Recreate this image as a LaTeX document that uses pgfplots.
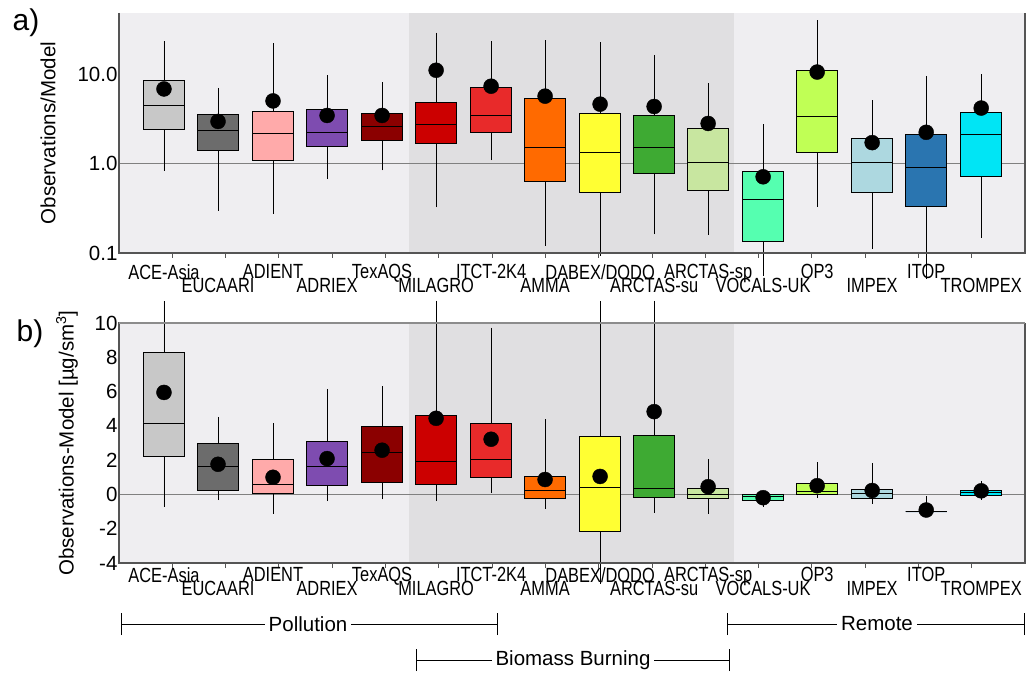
\documentclass[border=0pt]{standalone}
\usepackage{fontspec}
\setmainfont{Liberation Sans}
\newfontfamily\condfont{Liberation Sans}[FakeStretch=0.80]
\usepackage{pgfplots}
\pgfplotsset{compat=1.18}
\usepackage{pgfplotstable}
\usepgfplotslibrary{statistics}

\definecolor{bxc0}{HTML}{C8C8C8}
\definecolor{bxc1}{HTML}{6C6C6C}
\definecolor{bxc2}{HTML}{FFAAAA}
\definecolor{bxc3}{HTML}{7E4CB0}
\definecolor{bxc4}{HTML}{8B0000}
\definecolor{bxc5}{HTML}{CC0000}
\definecolor{bxc6}{HTML}{E82A2A}
\definecolor{bxc7}{HTML}{FF6A00}
\definecolor{bxc8}{HTML}{FFFF33}
\definecolor{bxc9}{HTML}{3EAA33}
\definecolor{bxc10}{HTML}{C8E6A0}
\definecolor{bxc11}{HTML}{55FFB0}
\definecolor{bxc12}{HTML}{C0FF55}
\definecolor{bxc13}{HTML}{ADD8E0}
\definecolor{bxc14}{HTML}{2A75B0}
\definecolor{bxc15}{HTML}{00E5F5}
\definecolor{bglight}{HTML}{EFEEF1}
\definecolor{bgdark}{HTML}{E0DFE1}
\definecolor{axcol}{HTML}{555555}

% panel a: Observations/Model (ratios; plotted on a log10 scale)
\pgfplotstableread{
pos    lw     lq     med    uq     uw    mean
0.844  0.82   2.40   4.44   8.58   23.4  6.8
1.858  0.295  1.41   2.34   3.53   7.0   2.95
2.890  0.271  1.09   2.17   3.81   22.1  5.0
3.904  0.67   1.57   2.21   4.05   9.7   3.44
4.936  0.836  1.79   2.62   3.62   8.08  3.44
5.950  0.324  1.68   2.73   4.8    29    11.0
6.982  1.08   2.21   3.48   7.11   23.3  7.3
7.995  0.119  0.626  1.53   5.37   23.9  5.65
9.027  0.092  0.476  1.32   3.59   22.5  4.6
10.041 0.16   0.768  1.53   3.41   16.3  4.33
11.054 0.157  0.497  1.04   2.49   7.94  2.8
12.086 0.055  0.131  0.398  0.81   2.76  0.71
13.100 0.327  1.32   3.36   10.9   40    10.5
14.132 0.112  0.472  1.02   1.93   5.1   1.71
15.146 0.051  0.333  0.895  2.12   9.5   2.23
16.178 0.147  0.717  2.12   3.69   9.9   4.16
}\tabA

% panel b: Observations-Model
\pgfplotstableread{
pos    lw     lq     med    uq     uw    mean
0.844  -0.74  2.19   4.17   8.3    11.3  5.95
1.858  -0.33  0.21   1.65   2.95   4.52  1.76
2.890  -1.14  0.04   0.56   2.05   4.17  1.0
3.904  -0.39  0.5    1.61   3.1    6.16  2.09
4.936  -0.29  0.68   2.46   3.99   6.32  2.58
5.950  -0.39  0.6    1.9    4.59   11.3  4.44
6.982  0.1    0.99   2.02   4.17   9.73  3.22
7.995  -0.83  -0.23  0.23   1.03   4.4   0.87
9.027  -5.23  -2.15  0.41   3.39   11.3  1.05
10.041 -1.06  -0.16  0.35   3.43   11.3  4.83
11.054 -1.12  -0.25  0.0    0.37   2.07  0.45
12.086 -0.74  -0.35  -0.1   -0.02  0.0   -0.19
13.100 -0.23  0.0    0.16   0.64   1.88  0.51
14.132 -0.54  -0.21  0.04   0.29   1.84  0.23
15.146 -1.0   -1.0   -1.0   -1.0   -0.1  -0.91
16.178 -0.31  -0.04  0.13   0.21   0.8   0.21
}\tabB

\newcommand{\fs}{\fontsize{20.5}{23}\selectfont}

\newif\ifdolog
\newcommand{\getv}[4]{%
  \pgfplotstablegetelem{#2}{#3}\of#1%
  \ifdolog\pgfmathparse{log10(\pgfplotsretval)}\let#4\pgfmathresult
  \else\let#4\pgfplotsretval\fi}

% one box from row #2 of table #1
\newcommand{\boxrow}[2]{%
  \pgfplotstablegetelem{#2}{pos}\of#1\let\vpos\pgfplotsretval
  \getv{#1}{#2}{lw}\vlw
  \getv{#1}{#2}{lq}\vlq
  \getv{#1}{#2}{med}\vmed
  \getv{#1}{#2}{uq}\vuq
  \getv{#1}{#2}{uw}\vuw
  \edef\tmpplot{\noexpand\addplot[fill=bxc#2, draw=black, line width=0.8pt,
    boxplot prepared={draw direction=y, draw position=\vpos, lower whisker=\vlw,
      lower quartile=\vlq, median=\vmed, upper quartile=\vuq,
      upper whisker=\vuw, box extend=0.77, whisker extend=0}]
    coordinates {};}%
  \tmpplot
}

\pgfplotsset{
  panel/.style={
    scale only axis, width=906pt, height=240pt,
    xmin=0, xmax=17, clip=false, set layers,
    axis line style={draw=none},
    xtick={0.844,2.890,4.936,6.982,9.027,11.054,13.100,15.146},
    xticklabels={ACE-Asia,ADIENT,TexAQS,ITCT-2K4,DABEX/DODO,ARCTAS-sp,OP3,ITOP},
    extra x ticks={1.858,3.904,5.950,7.995,10.041,12.086,14.132,16.178},
    extra x tick labels={EUCAARI,ADRIEX,MILAGRO,AMMA,ARCTAS-su,VOCALS-UK,IMPEX,TROMPEX},
    extra x tick style={xticklabel style={yshift=-14pt}},
    minor xtick={1,...,16},
    every major x tick/.append style={draw=none},
    every minor x tick/.append style={yshift=-5pt},
    xtick pos=left, ytick pos=both, yticklabel pos=left,
    major tick length=5pt, minor tick length=5pt,
    tick style={axcol, line width=0.8pt},
    xticklabel style={font=\condfont\fs, anchor=north},
    yticklabel style={font=\fs, xshift=2pt},
    ylabel style={font=\fs, anchor=center},
  },
}

\begin{document}
\begin{tikzpicture}
\path (0pt,0pt) rectangle (1027pt,675pt);

% ---------------- panel a (log10 scale) ----------------
\begin{axis}[panel, at={(119pt,422pt)}, anchor=south west,
  ymin=-1, ymax=1.681,
  ytick={-1,0,1}, yticklabels={0.1,1.0,10.0},
  minor ytick={-0.69897,-0.52288,-0.39794,-0.30103,-0.22185,-0.15490,-0.09691,-0.04576,
    0.30103,0.47712,0.60206,0.69897,0.77815,0.84510,0.90309,0.95424,
    1.30103,1.47712,1.60206},
  xticklabel style={yshift=-8pt},
  ylabel={Observations/Model},
  ylabel style={at={(rel axis cs:-0.0784,0.5)}},
]
\fill[bglight, on layer=axis background] (rel axis cs:0,0) rectangle (rel axis cs:1,1);
\fill[bgdark, on layer=axis background] (rel axis cs:0.32,0) rectangle (rel axis cs:0.679,1);
\draw[gray, line width=0.8pt, on layer=axis grid] (axis cs:0,0) -- (axis cs:17,0);
\dologtrue
\pgfplotsinvokeforeach{0,...,15}{\boxrow{\tabA}{#1}}
\addplot[only marks, mark=*, mark size=7.5pt, black] table[x=pos, y expr={log10(\thisrow{mean})}] {\tabA};
\draw[axcol, line width=1.5pt] (rel axis cs:0,1) -- (rel axis cs:0,0) -- (rel axis cs:1,0) -- (rel axis cs:1,1);
\end{axis}

% ---------------- panel b ----------------
\begin{axis}[panel, at={(119pt,112pt)}, anchor=south west,
  ymin=-4, ymax=10,
  ytick={-4,-2,0,2,4,6,8,10}, yticklabels={-4,-2,0,2,4,6,8,10},
  minor y tick num=3,
  xticklabel style={yshift=-1pt},
  ylabel={Observations-Model [µg/sm\textsuperscript{3}]},
  ylabel style={at={(rel axis cs:-0.0574,0.5)}},
]
\fill[bglight, on layer=axis background] (rel axis cs:0,0) rectangle (rel axis cs:1,1);
\fill[bgdark, on layer=axis background] (rel axis cs:0.32,0) rectangle (rel axis cs:0.679,1);
\draw[gray, line width=0.8pt, on layer=axis grid] (axis cs:0,0) -- (axis cs:17,0);
\dologfalse
\pgfplotsinvokeforeach{0,...,15}{\boxrow{\tabB}{#1}}
\addplot[only marks, mark=*, mark size=7.5pt, black] table[x=pos, y=mean] {\tabB};
\draw[axcol, line width=1.5pt] (rel axis cs:1,1) -- (rel axis cs:0,1) -- (rel axis cs:0,0) -- (rel axis cs:1,0) -- (rel axis cs:1,1);
\draw[gray!90, line width=2pt] (rel axis cs:0,1) -- (rel axis cs:1,1);
\end{axis}

% panel letters
\node[font=\fontsize{30}{34}\selectfont] at (26pt,652pt) {a)};
\node[font=\fontsize{30}{34}\selectfont] at (30pt,341pt) {b)};

% group brackets
\draw[line width=0.8pt] (121pt,40pt) -- (121pt,62pt) (121pt,51pt) -- (497pt,51pt) (497pt,40pt) -- (497pt,62pt);
\node[fill=white, inner sep=4pt, font=\fs] at (308pt,51pt) {Pollution};
\draw[line width=0.8pt] (727pt,40pt) -- (727pt,62pt) (727pt,51pt) -- (1024pt,51pt) (1024pt,40pt) -- (1024pt,62pt);
\node[fill=white, inner sep=4pt, font=\fs] at (877pt,51pt) {Remote};
\draw[line width=0.8pt] (416pt,4pt) -- (416pt,26pt) (416pt,15pt) -- (729pt,15pt) (729pt,4pt) -- (729pt,26pt);
\node[fill=white, inner sep=4pt, font=\fs] at (573pt,15pt) {Biomass Burning};
\end{tikzpicture}
\end{document}
